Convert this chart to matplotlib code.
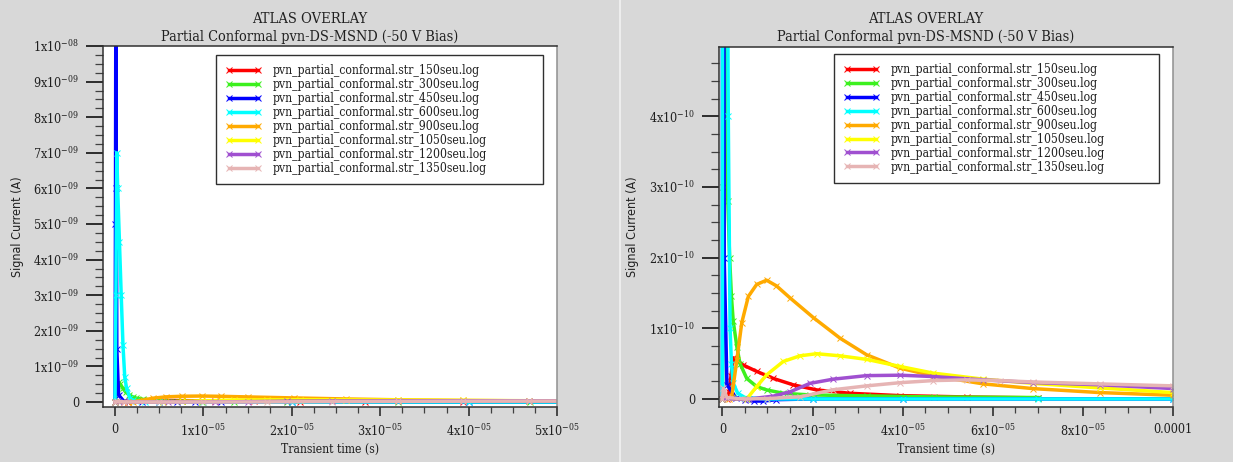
import matplotlib
matplotlib.use('agg')
import matplotlib.pyplot as plt
from matplotlib.ticker import FuncFormatter, MultipleLocator, FixedLocator
from matplotlib.lines import Line2D
import numpy as np

plt.rcParams['font.family'] = ['DejaVu Serif']
plt.rcParams['font.stretch'] = 'condensed'
plt.rcParams['mathtext.fontset'] = 'dejavuserif'

TITLE = 'ATLAS OVERLAY'
SUBTITLE = 'Partial Conformal pvn-DS-MSND (-50 V Bias)'
XLABEL = 'Transient time (s)'
YLABEL = 'Signal Current (A)'

labels = ['pvn_partial_conformal.str_%dseu.log' % n
          for n in [150, 300, 450, 600, 900, 1050, 1200, 1350]]
colors = ['#ff0000', '#3cf01e', '#0000ff', '#00ffff',
          '#ffaa00', '#ffff00', '#a050d0', '#e6b4b4']

# transient currents, time in s, current in A
t_150 = [0, 1.0e-6, 1.5e-6, 1.9e-6, 2.4e-6, 3.0e-6, 4.6e-6, 7.6e-6, 1.13e-5,
         1.57e-5, 2.09e-5, 2.83e-5, 3.94e-5, 5.42e-5, 7.0e-5]
i_150 = [0, 0, 0.1e-10, 0.32e-10, 0.58e-10, 0.56e-10, 0.48e-10, 0.39e-10,
         0.29e-10, 0.2e-10, 0.128e-10, 0.08e-10, 0.047e-10, 0.028e-10, 0.015e-10]

t_300 = [0, 2e-7, 4e-7, 6e-7, 9e-7, 1.2e-6, 1.6e-6, 2.0e-6, 2.4e-6, 3.2e-6,
         3.9e-6, 5.4e-6, 7.6e-6, 9.8e-6, 1.35e-5, 1.94e-5, 3.2e-5, 4.7e-5, 7.0e-5]
i_300 = [0, 3.0e-10, 5.5e-10, 5.0e-10, 3.8e-10, 2.8e-10, 2.0e-10, 1.45e-10,
         1.1e-10, 0.74e-10, 0.5e-10, 0.29e-10, 0.175e-10, 0.128e-10, 0.08e-10,
         0.057e-10, 0.043e-10, 0.028e-10, 0.02e-10]

t_450 = [0, 5e-8, 1e-7, 1.5e-7, 2e-7, 4e-7, 1e-6, 3e-6, 5e-6, 7e-6, 9e-6,
         1.2e-5, 2e-5, 4e-5, 1e-4]
i_450 = [0, 5e-9, 1.3e-8, 6e-9, 1.5e-9, 2e-10, 2e-11, 2e-12, -2e-12, -3e-12,
         -3e-12, -1e-12, 0, 0, 0]

t_600 = [0, 1e-7, 2e-7, 3e-7, 5e-7, 7e-7, 9e-7, 1.1e-6, 1.3e-6, 1.7e-6,
         2.0e-6, 2.4e-6, 3.4e-6, 5e-6, 1e-5, 2e-5, 4e-5, 7e-5, 1e-4]
i_600 = [0, 3e-9, 7e-9, 6e-9, 4.5e-9, 3e-9, 1.6e-9, 7e-10, 4e-10, 1e-10,
         5e-11, 2.2e-11, 8e-12, 2e-12, 0, 0, 0, 0, 0]

t_900 = [0, 1.5e-6, 2.06e-6, 3.2e-6, 4.3e-6, 5.75e-6, 7.6e-6, 9.8e-6, 1.2e-5,
         1.5e-5, 2.02e-5, 2.61e-5, 3.2e-5, 3.94e-5, 4.68e-5, 5.79e-5, 6.9e-5,
         8.38e-5, 1e-4]
i_900 = [0, 0, 0.03e-10, 0.55e-10, 1.08e-10, 1.45e-10, 1.62e-10, 1.68e-10,
         1.6e-10, 1.43e-10, 1.15e-10, 0.86e-10, 0.625e-10, 0.436e-10, 0.327e-10,
         0.213e-10, 0.146e-10, 0.09e-10, 0.052e-10]

t_1050 = [0, 5.4e-6, 7.6e-6, 9.8e-6, 1.35e-5, 1.72e-5, 2.09e-5, 2.61e-5, 3.2e-5,
          3.94e-5, 4.68e-5, 5.79e-5, 6.9e-5, 8.38e-5, 1e-4]
i_1050 = [0, 0, 0.175e-10, 0.34e-10, 0.53e-10, 0.61e-10, 0.64e-10, 0.61e-10,
          0.56e-10, 0.46e-10, 0.365e-10, 0.28e-10, 0.22e-10, 0.156e-10, 0.09e-10]

t_1200 = [0, 6e-6, 1.13e-5, 1.5e-5, 1.94e-5, 2.46e-5, 3.2e-5, 3.94e-5, 4.68e-5,
          5.79e-5, 6.9e-5, 8.38e-5, 1e-4]
i_1200 = [0, 0, 0.04e-10, 0.10e-10, 0.22e-10, 0.28e-10, 0.33e-10, 0.336e-10,
          0.317e-10, 0.27e-10, 0.232e-10, 0.2e-10, 0.147e-10]

t_1350 = [0, 2e-7, 1e-6, 5e-6, 1e-5, 1.72e-5, 2.46e-5, 3.2e-5, 3.94e-5, 4.68e-5,
          5.42e-5, 6.16e-5, 6.9e-5, 8.38e-5, 1e-4]
i_1350 = [0, 0.15e-10, 0.02e-10, 0, 0.005e-10, 0.03e-10, 0.13e-10, 0.185e-10,
          0.23e-10, 0.26e-10, 0.27e-10, 0.26e-10, 0.24e-10, 0.213e-10, 0.185e-10]

series = [(t_150, i_150), (t_300, i_300), (t_450, i_450), (t_600, i_600),
          (t_900, i_900), (t_1050, i_1050), (t_1200, i_1200), (t_1350, i_1350)]

BG = '#d8d8d8'
INK = '#202020'


def sci_label(v, pos=None):
    if abs(v) < 1e-20:
        return '0'
    if abs(v - 1e-4) < 1e-12:
        return '0.0001'
    e = int(np.floor(np.log10(abs(v)) + 1e-9))
    m = v / 10 ** e
    return r'%dx10$^{%s}$' % (round(m), '%03d' % e)


def setup_axes(ax, xlim, ylim, xmajor, xminor, ymajor, yminor):
    ax.set_facecolor('white')
    ax.set_xlim(*xlim)
    ax.set_ylim(*ylim)
    ax.xaxis.set_major_locator(FixedLocator(xmajor))
    ax.xaxis.set_minor_locator(MultipleLocator(xminor))
    ax.yaxis.set_major_locator(FixedLocator(ymajor))
    ax.yaxis.set_minor_locator(MultipleLocator(yminor))
    ax.xaxis.set_major_formatter(FuncFormatter(sci_label))
    ax.yaxis.set_major_formatter(FuncFormatter(sci_label))
    ax.tick_params(axis='y', which='major', direction='out', length=12, width=1.3,
                   color=INK, pad=5, labelsize=9, labelcolor=INK)
    ax.tick_params(axis='y', which='minor', direction='out', length=5.5, width=0.9,
                   color='#404040')
    ax.tick_params(axis='x', which='major', direction='out', length=6.5, width=1.1,
                   color=INK, pad=5, labelsize=9, labelcolor=INK)
    ax.tick_params(axis='x', which='minor', direction='out', length=4, width=0.9,
                   color='#404040')
    for side in ['left', 'top', 'bottom']:
        ax.spines[side].set_color('#303030')
        ax.spines[side].set_linewidth(1.1)
    ax.spines['right'].set_color('#909090')
    ax.spines['right'].set_linewidth(1.1)
    ax.set_xlabel(XLABEL, fontsize=8.7, color=INK)
    ax.xaxis.set_label_coords(0.5, -0.10)
    ax.set_ylabel(YLABEL, fontsize=9, color=INK, family='DejaVu Sans')
    ax.yaxis.set_label_coords(-0.175, 0.5)


fig = plt.figure(figsize=(12.33, 4.62), dpi=100, facecolor=BG)

ax1 = fig.add_axes([103 / 1233, 55 / 462, 454 / 1233, 361 / 462])
ax2 = fig.add_axes([718.5 / 1233, 55 / 462, 454.5 / 1233, 360 / 462])

for ax in (ax1, ax2):
    for (t, i), c, lab in zip(series, colors, labels):
        ax.plot(t, i, color=c, lw=2.5, marker='x', ms=4, mew=0.7, label=lab)

setup_axes(ax1, (-1.36e-6, 5e-5), (-1.4e-10, 1.0e-8),
           [0, 1e-5, 2e-5, 3e-5, 4e-5, 5e-5], 2.5e-6,
           [i * 1e-9 for i in range(11)], 2.5e-10)
setup_axes(ax2, (-8.7e-7, 1e-4), (-1.14e-11, 4.98e-10),
           [0, 2e-5, 4e-5, 6e-5, 8e-5, 1e-4], 5e-6,
           [0, 1e-10, 2e-10, 3e-10, 4e-10], 2.5e-11)

# legend boxes, (x0, y0, w, h) in axes fraction
legend_boxes = [(0.249, 0.634, 0.720, 0.341), (0.254, 0.636, 0.715, 0.345)]
for ax, box in zip((ax1, ax2), legend_boxes):
    leg = ax.legend(loc='upper left', bbox_to_anchor=box, mode='expand',
                    fontsize=8.7, numpoints=2, handlelength=3.0,
                    handletextpad=0.95, labelspacing=0.08, borderpad=0.75,
                    borderaxespad=0, fancybox=False, framealpha=1)
    leg.get_frame().set_edgecolor('#303030')
    leg.get_frame().set_linewidth(1.0)
    for txt in leg.get_texts():
        txt.set_color(INK)

# titles centred on each panel
for cx in (310, 926):
    fig.text(cx / 1233, 1 - 19 / 462, TITLE, ha='center', va='center',
             fontsize=10.5, color=INK)
    fig.text(cx / 1233, 1 - 37 / 462, SUBTITLE, ha='center', va='center',
             fontsize=10.4, color=INK)

# panel divider
fig.add_artist(Line2D([619.5 / 1233] * 2, [0, 1], color='#f2f2f2', lw=1.2))

fig.savefig('out.png', dpi=100, facecolor=BG)
